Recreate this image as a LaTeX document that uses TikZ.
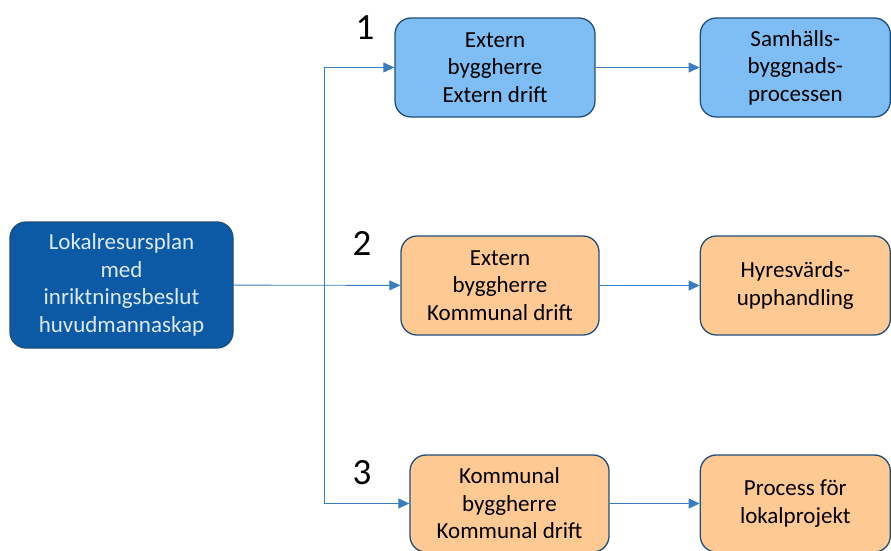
\documentclass[tikz,border=0pt]{standalone}
\usepackage{fontspec}
\setmainfont{Carlito}
\usetikzlibrary{arrows.meta, positioning}

\definecolor{planblue}{HTML}{0C5AA6}
\definecolor{planwhite}{HTML}{DDEAF6}
\definecolor{skyblue}{HTML}{7EBEF5}
\definecolor{peach}{HTML}{FFC993}
\definecolor{edgeblue}{HTML}{1F4E79}
\definecolor{lineblue}{HTML}{3A7CC0}

\begin{document}
\begin{tikzpicture}[x=1pt, y=-1pt, node distance=100pt,
    block/.style={rectangle, draw=edgeblue, line width=1.3pt, rounded corners=16pt, align=center, minimum height=99pt, font=\fontsize{23}{27.5}\selectfont},
    extblock/.style={block, fill=skyblue},
    komblock/.style={block, fill=peach},
    line/.style={draw=lineblue, line width=0.9pt, -{Triangle[length=11pt, width=10pt]}},
    number/.style={font=\fontsize{37}{37}\selectfont}
]
    \useasboundingbox (0,0) rectangle (891,551);

    % Start
    \node [block, fill=planblue, text=planwhite, minimum width=223pt, minimum height=126pt] (plan) at (121.5,285) {Lokalresursplan\\med\\inriktningsbeslut\\huvudmannaskap};
    \coordinate (split) at (324,285);

    % Alternative 1
    \node [extblock, minimum width=200pt] (ext1) at (495,67.5) {Extern\\byggherre\\Extern drift};
    \node [extblock, right=104pt of ext1, minimum width=190pt] (samh) {Samhälls-\\byggnads-\\processen};
    \node [number] (n1) at (365,28) {1};

    % Alternative 2
    \node [komblock, minimum width=198pt] (ext2) at (500,285.5) {Extern\\byggherre\\Kommunal drift};
    \node [komblock, right=100pt of ext2, minimum width=190pt] (hyres) {Hyresvärds-\\upphandling};
    \node [number] (n2) at (362,243) {2};

    % Alternative 3
    \node [komblock, minimum width=199pt, minimum height=97pt] (kom3) at (509.5,503.5) {Kommunal\\byggherre\\Kommunal drift};
    \node [komblock, right=90pt of kom3, minimum width=190pt, minimum height=97pt] (lokal) {Process för\\lokalprojekt};
    \node [number] (n3) at (362,473) {3};

    % Connections
    \path [line] (plan) -- (ext2);
    \path [line] (split) |- (ext1);
    \path [line] (split) |- (kom3);
    \path [line] (ext1) -- (samh);
    \path [line] (ext2) -- (hyres);
    \path [line] (kom3) -- (lokal);

\end{tikzpicture}
\end{document}
